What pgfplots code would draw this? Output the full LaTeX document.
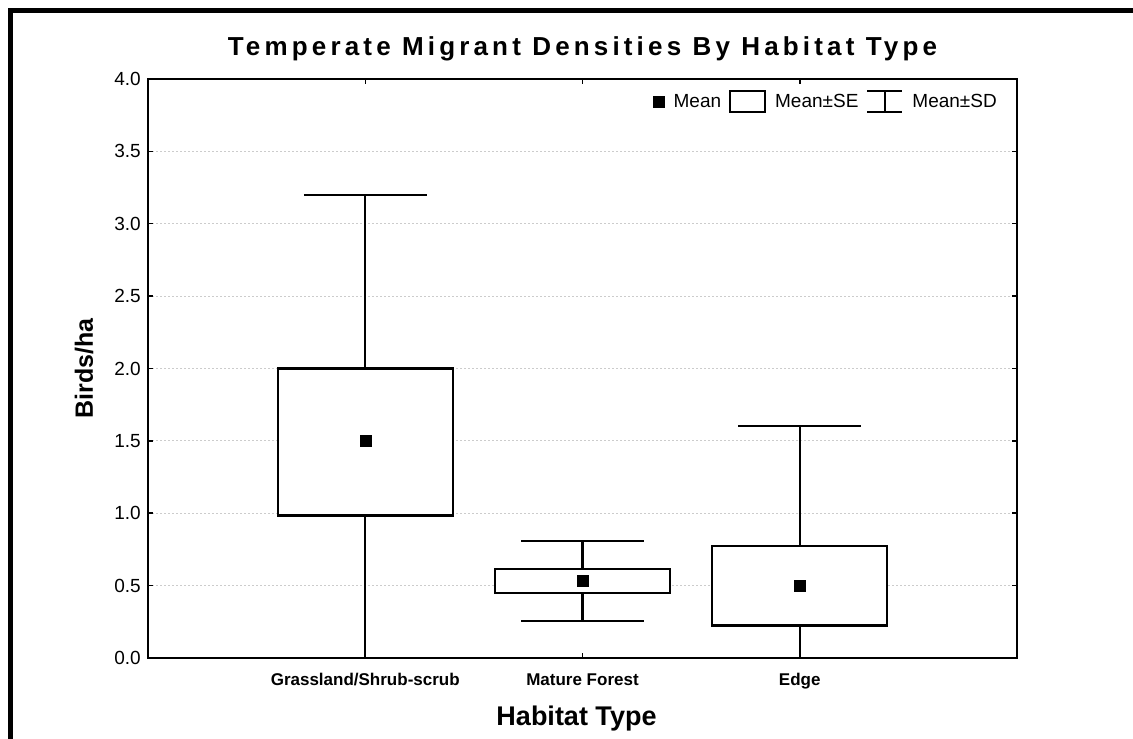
\documentclass[border=0pt]{standalone}
\usepackage{fontspec}
\setmainfont{Liberation Sans}
\newfontfamily\titlefont[LetterSpace=16]{Liberation Sans}
\usepackage{pgfplots}
\pgfplotsset{compat=1.18}
\usepgfplotslibrary{statistics}
\begin{document}
\begin{tikzpicture}
\path[fill=white,use as bounding box] (0pt,0pt) rectangle (1133pt,739pt);
\draw[line width=5pt, line join=miter] (10.8pt,0pt) -- (10.8pt,728.2pt) -- (1133pt,728.2pt);
\begin{axis}[
  at={(148pt,81pt)}, anchor=south west, scale only axis,
  width=869pt, height=579pt,
  xmin=0, xmax=4, ymin=0, ymax=4,
  xtick={1,2,3},
  xticklabels={Grassland/Shrub-scrub, Mature Forest, Edge},
  ytick={0,0.5,1,1.5,2,2.5,3,3.5,4},
  /pgf/number format/assume math mode=true,
  yticklabel style={/pgf/number format/fixed, /pgf/number format/fixed zerofill, /pgf/number format/precision=1,
     font=\fontsize{19}{22}\selectfont, inner xsep=0pt, xshift=-7pt},
  xticklabel style={font=\bfseries\fontsize{17}{20}\selectfont, anchor=base, yshift=-28pt},
  xlabel={Habitat Type},
  xlabel style={font=\bfseries\fontsize{27}{32}\selectfont, at={(axis description cs:0.4931,-0.1174)}, anchor=base},
  ylabel={Birds/ha},
  ylabel style={font=\bfseries\fontsize{25}{30}\selectfont, at={(axis description cs:-0.0633,0.5)}, anchor=base},
  title={Temperate Migrant Densities By Habitat Type},
  title style={font=\titlefont\bfseries\fontsize{26}{30}\selectfont, at={(axis description cs:0.5,1)}, anchor=base, yshift=17pt},
  axis line style={line width=2.2pt},
  tick align=inside, major tick length=5pt,
  every tick/.style={black, line width=1.5pt},
  ymajorgrids,
  major grid style={gray!40, line width=0.8pt, dash pattern=on 2pt off 2pt},
  boxplot/draw direction=y,
  legend columns=-1,
  legend style={draw=none, fill=none, at={(rel axis cs:1,1)}, anchor=east, xshift=-20pt, yshift=-23pt,
     font=\fontsize{19}{22}\selectfont, inner sep=0pt, nodes={inner xsep=0pt, inner ysep=0pt},
     /tikz/every odd column/.append style={column sep=9pt},
     /tikz/every even column/.append style={column sep=8pt}},
]
\addlegendimage{legend image code/.code={\fill[black] (0pt,-5.5pt) rectangle (11pt,5.5pt);}}
\addlegendentry{Mean}
\addlegendimage{legend image code/.code={\draw[black,line width=2pt] (0pt,-10.5pt) rectangle (35pt,10.5pt);}}
\addlegendentry{Mean±SE}
\addlegendimage{legend image code/.code={\draw[black,line width=2pt] (0pt,10.5pt) -- (35pt,10.5pt) (17.5pt,10.5pt) -- (17.5pt,-10.5pt) (0pt,-10.5pt) -- (35pt,-10.5pt);}}
\addlegendentry{Mean±SD}

\addplot[black, line width=2.2pt, fill=white, forget plot,
  boxplot prepared={draw position=1, lower whisker=-0.2, lower quartile=0.985, median=1.5, upper quartile=2.0, upper whisker=3.2, box extend=0.805, whisker extend=0.566},
  boxplot/draw/median/.code={}] coordinates {};
\addplot[black, line width=2.2pt, fill=white, forget plot,
  boxplot prepared={draw position=2, lower whisker=0.255, lower quartile=0.447, median=0.532, upper quartile=0.617, upper whisker=0.81, box extend=0.805, whisker extend=0.566},
  boxplot/draw/median/.code={}] coordinates {};
\addplot[black, line width=2.2pt, fill=white, forget plot,
  boxplot prepared={draw position=3, lower whisker=-0.6, lower quartile=0.225, median=0.50, upper quartile=0.775, upper whisker=1.60, box extend=0.805, whisker extend=0.566},
  boxplot/draw/median/.code={}] coordinates {};
\addplot[only marks, mark=square*, mark size=5.5pt, black, forget plot] coordinates {(1,1.503) (2,0.532) (3,0.50)};
\end{axis}
\end{tikzpicture}
\end{document}
